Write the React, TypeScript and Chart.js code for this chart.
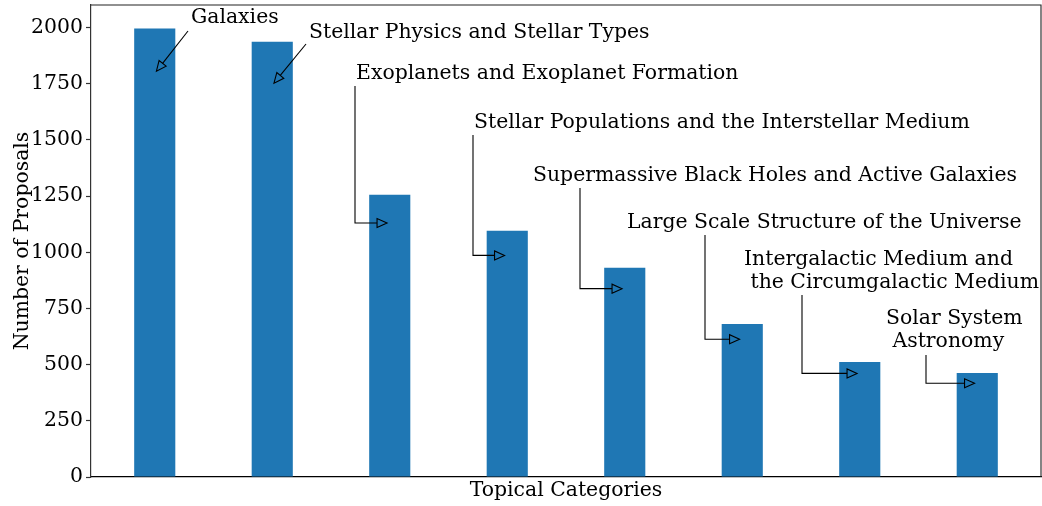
import React, { useEffect, useRef } from 'react';
import { Chart, registerables } from 'chart.js';

Chart.register(...registerables);

const FONT = 'DejaVu Serif';
const FONT_SIZE = 20.4;

const categories = [
  'Galaxies',
  'Stellar Physics and Stellar Types',
  'Exoplanets and Exoplanet Formation',
  'Stellar Populations and the Interstellar Medium',
  'Supermassive Black Holes and Active Galaxies',
  'Large Scale Structure of the Universe',
  'Intergalactic Medium and the Circumgalactic Medium',
  'Solar System Astronomy',
];

const proposals = [1996, 1937, 1256, 1096, 931, 681, 512, 463];

const arrowTargets = [1796, 1743, 1130, 986, 838, 613, 461, 417];

const annotationLines = [
  ['Galaxies'],
  ['Stellar Physics and Stellar Types'],
  ['Exoplanets and Exoplanet Formation'],
  ['Stellar Populations and the Interstellar Medium'],
  ['Supermassive Black Holes and Active Galaxies'],
  ['Large Scale Structure of the Universe'],
  ['Intergalactic Medium and', ' the Circumgalactic Medium'],
  ['Solar System', ' Astronomy'],
];

const yTicks = [0, 250, 500, 750, 1000, 1250, 1500, 1750, 2000];

// pixel layout of the annotation texts and connector starts
const annotationLayout = [
  { textX: 191, textY: 23, kind: 'straight', fromX: 188, fromY: 31 },
  { textX: 309, textY: 38, kind: 'straight', fromX: 306, fromY: 44 },
  { textX: 356, textY: 79, kind: 'angle', fromX: 355, fromY: 86 },
  { textX: 474, textY: 128, kind: 'angle', fromX: 473, fromY: 135 },
  { textX: 533, textY: 181, kind: 'angle', fromX: 580, fromY: 188 },
  { textX: 627, textY: 228, kind: 'angle', fromX: 705, fromY: 235 },
  { textX: 744, textY: 265, kind: 'angle', fromX: 802, fromY: 295 },
  { textX: 886, textY: 324, kind: 'angle', fromX: 926, fromY: 355 },
];

const LINE_H = 23;
const SHRINK = 2.7;
const HEAD_L = 10;
const HEAD_W = 4.5;

function drawHead(ctx: CanvasRenderingContext2D, tx: number, ty: number, ux: number, uy: number) {
  const bx = tx - ux * HEAD_L;
  const by = ty - uy * HEAD_L;
  const px = -uy;
  const py = ux;
  ctx.beginPath();
  ctx.moveTo(bx + px * HEAD_W, by + py * HEAD_W);
  ctx.lineTo(tx, ty);
  ctx.lineTo(bx - px * HEAD_W, by - py * HEAD_W);
  ctx.closePath();
  ctx.stroke();
  return [bx, by];
}

const annotationPlugin = {
  id: 'annotations',
  afterDatasetsDraw(chart: any) {
    const ctx: CanvasRenderingContext2D = chart.ctx;
    const { left, right, top, bottom } = chart.chartArea;
    const xs = chart.scales.x;
    const ys = chart.scales.y;
    ctx.save();
    // top and right spines
    ctx.strokeStyle = '#222';
    ctx.lineWidth = 1.1;
    ctx.beginPath();
    ctx.moveTo(left, top);
    ctx.lineTo(right, top);
    ctx.lineTo(right, bottom);
    ctx.stroke();

    ctx.fillStyle = '#000';
    ctx.strokeStyle = '#000';
    ctx.lineWidth = 1.1;
    ctx.font = `${FONT_SIZE}px "${FONT}"`;
    ctx.textAlign = 'left';
    ctx.textBaseline = 'alphabetic';

    annotationLayout.forEach((lay, i) => {
      annotationLines[i].forEach((line, k) => {
        ctx.fillText(line, lay.textX, lay.textY + k * LINE_H);
      });
      const cx = xs.getPixelForValue(i);
      const cy = ys.getPixelForValue(arrowTargets[i]);
      if (lay.kind === 'straight') {
        const dx = cx - lay.fromX;
        const dy = cy - lay.fromY;
        const len = Math.hypot(dx, dy);
        const ux = dx / len;
        const uy = dy / len;
        const tx = cx - ux * SHRINK;
        const ty = cy - uy * SHRINK;
        const [bx, by] = drawHead(ctx, tx, ty, ux, uy);
        ctx.beginPath();
        ctx.moveTo(lay.fromX, lay.fromY);
        ctx.lineTo(bx, by);
        ctx.stroke();
      } else {
        const tx = cx - SHRINK;
        const ty = cy;
        const [bx, by] = drawHead(ctx, tx, ty, 1, 0);
        ctx.beginPath();
        ctx.moveTo(lay.fromX, lay.fromY);
        ctx.lineTo(lay.fromX, ty);
        ctx.lineTo(bx, by);
        ctx.stroke();
      }
    });
    ctx.restore();
  },
};

export default function App() {
  const ref = useRef<HTMLCanvasElement | null>(null);

  useEffect(() => {
    if (!ref.current) return;
    Chart.defaults.font.family = FONT;
    const font = { family: FONT, size: FONT_SIZE };
    const chart = new Chart(ref.current, {
      type: 'bar',
      data: {
        labels: categories,
        datasets: [
          {
            label: 'Number of Proposals',
            data: proposals.map((v, i) => ({ x: i, y: v })),
            backgroundColor: '#1f77b4',
            borderWidth: 0,
            barPercentage: 0.35,
            categoryPercentage: 1,
          },
        ],
      },
      options: {
        animation: false,
        responsive: false,
        devicePixelRatio: 1,
        layout: { padding: { top: 5, right: 1, left: 0, bottom: 0 } },
        plugins: {
          legend: { display: false },
          tooltip: { enabled: false },
        },
        scales: {
          x: {
            type: 'linear',
            min: -0.5425,
            max: 7.5425,
            offset: false,
            ticks: { display: false },
            grid: { display: false },
            border: { display: true, color: '#000', width: 1.2 },
            title: {
              display: true,
              text: 'Topical Categories',
              font,
              color: '#000',
              padding: { top: 0, bottom: 3 },
            },
            afterFit: (s: any) => {
              s.height = 29;
              s.paddingLeft = 0;
              s.paddingRight = 0;
            },
          },
          y: {
            min: 0,
            max: 2100,
            afterBuildTicks: (s: any) => {
              s.ticks = yTicks.map((v) => ({ value: v }));
            },
            ticks: {
              font,
              color: '#000',
              padding: 3,
              autoSkip: false,
              callback: (v: any) => String(v),
            },
            grid: {
              drawOnChartArea: false,
              drawTicks: true,
              tickLength: 5,
              color: '#333',
              tickWidth: 1.2,
            },
            border: { display: true, color: '#333', width: 1.2 },
            title: {
              display: true,
              text: 'Number of Proposals',
              font,
              color: '#000',
              padding: { top: 10, bottom: 0 },
            },
            afterFit: (s: any) => {
              s.width = 91;
              s.paddingTop = 0;
              s.paddingBottom = 0;
            },
          },
        },
      },
      plugins: [annotationPlugin],
    } as any);
    return () => chart.destroy();
  }, []);

  return (
    <div style={{ position: 'fixed', left: 0, top: 0, width: 1042, height: 506, background: '#fff' }}>
      <canvas ref={ref} width={1042} height={506} style={{ display: 'block' }} />
    </div>
  );
}
